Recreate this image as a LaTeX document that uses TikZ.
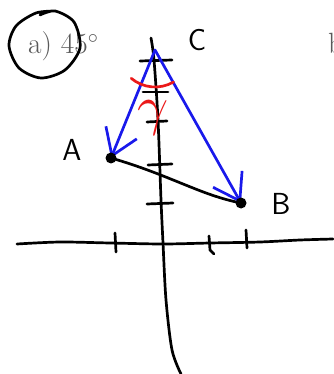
\documentclass[tikz,border=0pt]{standalone}
\usepackage{xcolor}
\usepackage{tikz}
\usetikzlibrary{arrows.meta}
\usetikzlibrary{positioning}
\definecolor{inkblue}{RGB}{25,25,235}
\definecolor{inkred}{RGB}{235,25,25}
\tikzstyle{ink} = [line width=2.3pt, line cap=round, line join=round]
\tikzstyle{vec} = [ink, draw=inkblue, 
    -{Straight Barb[length=0.75cm, width=1cm]}]
\tikzstyle{pt} = [circle, fill=black, inner sep=0pt, 
    minimum size=0.33cm]
\tikzstyle{printed} = [text=black!65, inner sep=0pt, 
    font=\fontsize{25}{30}\selectfont]
\tikzstyle{hand} = [inner sep=0pt, 
    font=\sffamily\fontsize{26}{30}\selectfont]

\begin{document}
\begin{tikzpicture}[x=0.03cm, y=-0.03cm]
            \useasboundingbox (0,0) rectangle (333,374);
            % printed exercise text
            \node [printed, anchor=base west] (parta) at (28,54) 
            {a)\ 45$^\circ$};
            \node [printed, anchor=base west] (partb) at (328,54) 
            {b)};
            \draw [ink] plot [smooth] coordinates {(56,11) (36,13) (16,26) 
                (9,46) (19,68) (41,78) (65,70) (80,48) (74,22) (55,11) (40,15)};
            % axes
            \draw [ink] plot [smooth] coordinates {(17,244) (60,242) (110,243) 
                (163,244) (210,243) (260,242) (300,240) (333,239)};
            \draw [ink] plot [smooth] coordinates {(151,38) (154,60) (158,120) 
                (161,200) (163,243) (166,300) (172,350) (181,374)};
            \draw [ink] (115,233) -- (116,252);
            \draw [ink] (209,236) -- (210,250) -- (214,254);
            \draw [ink] (246,230) -- (247,248);
            \draw [ink] (140,61) -- (172,60);
            \draw [ink] (143,92) -- (168,92);
            \draw [ink] (147,122) -- (167,121);
            \draw [ink] (148,165) -- (172,164);
            \draw [ink] (147,204) -- (173,203);
            % triangle
            \coordinate (C) at (155,50);
            \coordinate (A) at (111,158);
            \coordinate (B) at (241,203);
            \draw [ink] (A) .. controls (170,175) and (200,195) .. (B);
            \draw [vec] (C) -- (A);
            \draw [vec] (C) -- (B);
            \node [pt] (dotA) at (A) {};
            \node [pt] (dotB) at (B) {};
            \node [hand] (labC) at (197,40) {C};
            \node [hand] (labA) at (72,150) {A};
            \node [hand] (labB) at (281,204) {B};
            % angle at C
            \draw [ink, draw=inkred] ([shift={(130:37)}]C) arc (130:60:37);
            \node [text=inkred, font=\Huge, scale=1.9, transform shape] (gam) 
            at (153,118) {$\gamma$};
        \end{tikzpicture}
\end{document}
